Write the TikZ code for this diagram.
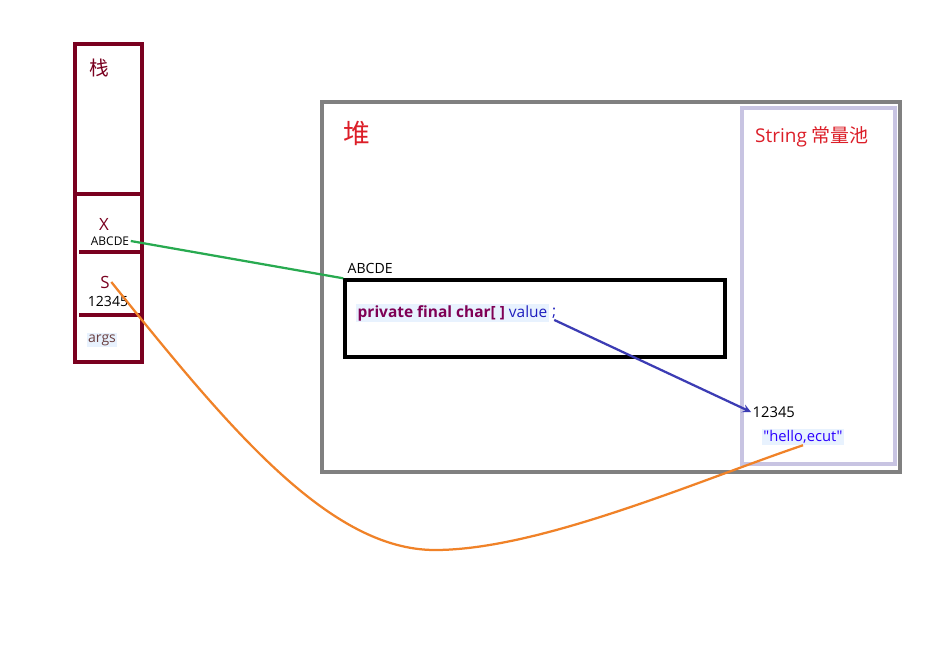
\documentclass[tikz,border=0pt]{standalone}
\usepackage{fontspec}
\setmainfont{Open Sans}[Ligatures=TeXOff]
\newfontfamily\cjk{Noto Sans CJK SC}
\usetikzlibrary{positioning}
\definecolor{stackred}{RGB}{122,0,32}
\definecolor{heapgray}{RGB}{128,128,128}
\definecolor{poolblue}{RGB}{200,196,226}
\definecolor{titlered}{RGB}{220,30,40}
\definecolor{kwpurple}{RGB}{127,0,85}
\definecolor{valblue}{RGB}{30,30,190}
\definecolor{strblue}{RGB}{42,0,255}
\definecolor{argcol}{RGB}{106,62,62}
\definecolor{hilite}{RGB}{232,242,254}
\definecolor{refgreen}{RGB}{40,170,80}
\definecolor{refblue}{RGB}{60,60,180}
\definecolor{reforange}{RGB}{240,130,40}
\tikzset{%
  stackline/.style = {draw=stackred,line width=2.4pt},
  membox/.style = {line width=2.4pt},
  t/.style = {inner sep=1pt,font=\fontsize{10}{12}\selectfont},
  hl/.style = {t,fill=hilite},
  greenref/.style = {refgreen,line width=1.6pt},
  blueref/.style = {-stealth,refblue,line width=1.6pt},
  orangeref/.style = {reforange,line width=1.6pt}
}

\begin{document}
\begin{tikzpicture}[x=0.025cm,y=-0.025cm]
  \useasboundingbox[fill=white] (0,0) rectangle (944,665);
  % stack
  \draw[stackline] (75,44) rectangle (142,362);
  \draw[stackline] (75,194) -- (142,194);
  \draw[stackline] (79,252) -- (142,252);
  \draw[stackline] (79,315) -- (142,315);
  \node[t,text=stackred,font=\cjk\fontsize{14}{16}\selectfont] (zhan) at (99,68) {栈};
  \node[t,text=stackred,font=\fontsize{12}{14}\selectfont] (xname) at (104,224) {X};
  \node[t,font=\fontsize{8.5}{10}\selectfont] (xval) at (110,241) {ABCDE};
  \node[t,text=stackred,font=\fontsize{12}{14}\selectfont] (sname) at (105,282) {S};
  \node[t] (sval) at (108,301) {12345};
  \node[hl,text=argcol] (args) at (102,340) {args};

  % heap and string pool
  \draw[membox,draw=heapgray] (322,102) rectangle (900,472);
  \draw[membox,draw=poolblue] (742,108) rectangle (895,464);
  \node[t,text=titlered,font=\cjk\fontsize{19}{21}\selectfont] (dui) at (357,133) {堆};
  \node[t,text=titlered,font=\fontsize{13.5}{16}\selectfont] (pool) at (812,137) {String {\cjk 常量池}};

  % String object
  \node[membox,draw=black,inner sep=0pt,minimum width=9.5cm,minimum height=1.925cm] (obj) at (535,318.5) {};
  \node[t,anchor=west] (objaddr) at (346,268) {ABCDE};
  \node[hl,anchor=west,font=\bfseries\fontsize{11}{13}\selectfont] (code) at (356,313)
    {\textcolor{kwpurple}{private final char[ ]} \textcolor{valblue}{\mdseries value}};
  \node[t,text=valblue,anchor=west,inner xsep=0pt,font=\fontsize{11}{13}\selectfont] (semi) [right=2pt of code] {;};
  \node[t,anchor=west,font=\fontsize{10.5}{12}\selectfont] (pval) at (751,412) {12345};
  \node[hl,text=strblue,font=\fontsize{10.5}{12}\selectfont] (hello) at (803,437) {"hello,ecut"};

  % references
  \draw[greenref] (xval.east) -- (obj.north west);
  \draw[blueref] (semi.south) -- (pval.west);
  \draw[orangeref] (sname.east) .. controls (230,430) and (330,550) .. (435,550)
    .. controls (540,550) and (700,480) .. (hello.south);
\end{tikzpicture}
\end{document}
